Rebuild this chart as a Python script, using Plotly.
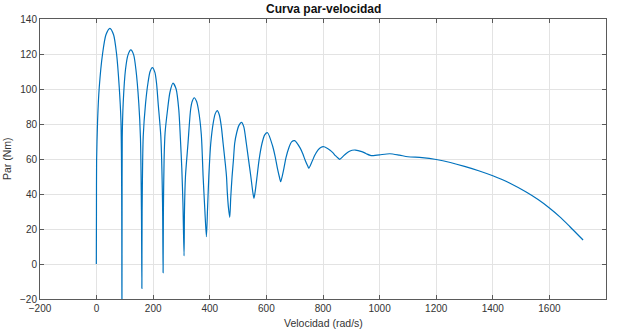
import plotly.graph_objects as go

# Speed (rad/s) and torque (Nm)
velocidad = [
    -1, -0.5, 0, 3.5, 9.4, 21, 33, 47, 60, 70.6, 80, 86, 88, 89, 89.5,
    90.0, 90.6, 94, 102, 111, 121, 131, 139, 149, 155, 158.5, 160,
    160.8, 164.7, 173, 182, 189, 197, 206, 212, 217.5, 227, 233, 235,
    236, 238.5, 242, 250.6, 259, 270, 281, 290.5, 296, 301, 305, 309,
    310.5, 314, 323, 332, 338, 345, 353, 360, 370, 376.4, 382.3, 388,
    392, 396.5, 403.4, 412, 419, 426, 434, 441, 447, 455, 459, 462, 466, 470.5,
    474, 478.7, 483.5, 488, 495, 503, 512, 520, 529, 537, 545, 552, 556,
    560, 567, 574, 584.6, 594, 604, 622, 631, 638.4, 647, 650.5,
    662, 669, 680, 689, 700, 719.5, 729, 737, 746.5, 750,
    762, 770, 782, 792, 803, 825, 835.5, 844, 855, 859,
    871, 880, 892, 903, 915, 937, 947.5, 956, 967, 971,
    1000, 1036, 1070, 1100, 1150, 1200, 1250, 1300, 1350, 1400,
    1459, 1518, 1560, 1600, 1640, 1671, 1719,
]
par = [
    0, 30, 59, 82, 101, 120, 131, 134.7, 131, 120, 101, 82, 59, 20, -32,
    30, 72, 92, 111, 119.5, 122.3, 119.5, 111, 92, 72, 30, -14,
    30, 72.7, 91.8, 104, 110, 112.2, 109.5, 103, 91.8, 72.7, 35, -5,
    30, 60, 75, 88, 98, 103.3, 100, 88, 72, 55, 35, 4.6,
    30, 50, 69, 88, 93, 95, 93, 88, 74, 50, 31.4, 15.6,
    31.4, 50, 69, 80.5, 85.8, 87.6, 85, 78.2, 69, 57, 50, 40.5, 32, 26.7,
    38, 50, 59.4, 69, 75, 79.2, 80.9, 78.5, 69, 59.5, 50, 41, 37.5,
    41, 50, 59.4, 69, 73.8, 75, 67.4, 61.3, 55.1, 49, 47,
    54.8, 60.6, 66.7, 69.8, 70.5, 66.2, 62.8, 59.3, 55.8, 54.7,
    58.8, 61.8, 65.1, 66.6, 67, 65, 63.5, 61.9, 60.3, 59.8,
    61.5, 62.9, 64.3, 65, 65.1, 64.2, 63.5, 62.8, 62.1, 61.9,
    62.4, 63, 62.2, 61.3, 60.8, 59.7, 58.0, 55.8, 53.3, 50.4,
    46.3, 41.1, 36.8, 32.0, 26.5, 21.6, 13.7,
]

x_ticks = [-200, 0, 200, 400, 600, 800, 1000, 1200, 1400, 1600, 1800]
y_ticks = [-20, 0, 20, 40, 60, 80, 100, 120, 140]

fig = go.Figure()
fig.add_trace(go.Scatter(
    x=velocidad, y=par, mode="lines",
    line=dict(color="#0072BD", width=1.2, shape="spline", smoothing=0.7),
    showlegend=False, hoverinfo="skip",
))

axis_common = dict(
    showgrid=True, gridcolor="#e3e3e3", gridwidth=1,
    zeroline=False, showline=True, linecolor="#5a5a5a", linewidth=1,
    mirror="allticks", ticks="inside", ticklen=4, tickcolor="#5a5a5a",
    tickfont=dict(family="Liberation Sans, Arial", size=10, color="#333333"),
)

fig.update_layout(
    width=617, height=330,
    margin=dict(l=40, r=11, t=19, b=31),
    paper_bgcolor="white", plot_bgcolor="white",
    xaxis=dict(range=[-200, 1800], tickvals=x_ticks, **axis_common),
    yaxis=dict(range=[-20, 140], tickvals=y_ticks, **axis_common),
    annotations=[
        dict(text="<b>Curva par-velocidad</b>", x=0.5, y=1, xref="paper", yref="paper",
             xanchor="center", yanchor="bottom", yshift=1, showarrow=False,
             font=dict(family="Liberation Sans, Arial", size=12, color="#111111")),
        dict(text="Velocidad (rad/s)", x=0.5, y=0, xref="paper", yref="paper",
             xanchor="center", yanchor="top", yshift=-16, showarrow=False,
             font=dict(family="Liberation Sans, Arial", size=10.5, color="#333333")),
        dict(text="Par (Nm)", x=0, y=0.5, xref="paper", yref="paper",
             xanchor="right", yanchor="middle", xshift=-25, textangle=-90, showarrow=False,
             font=dict(family="Liberation Sans, Arial", size=10.5, color="#333333")),
    ],
)

fig.write_html("out.html")
